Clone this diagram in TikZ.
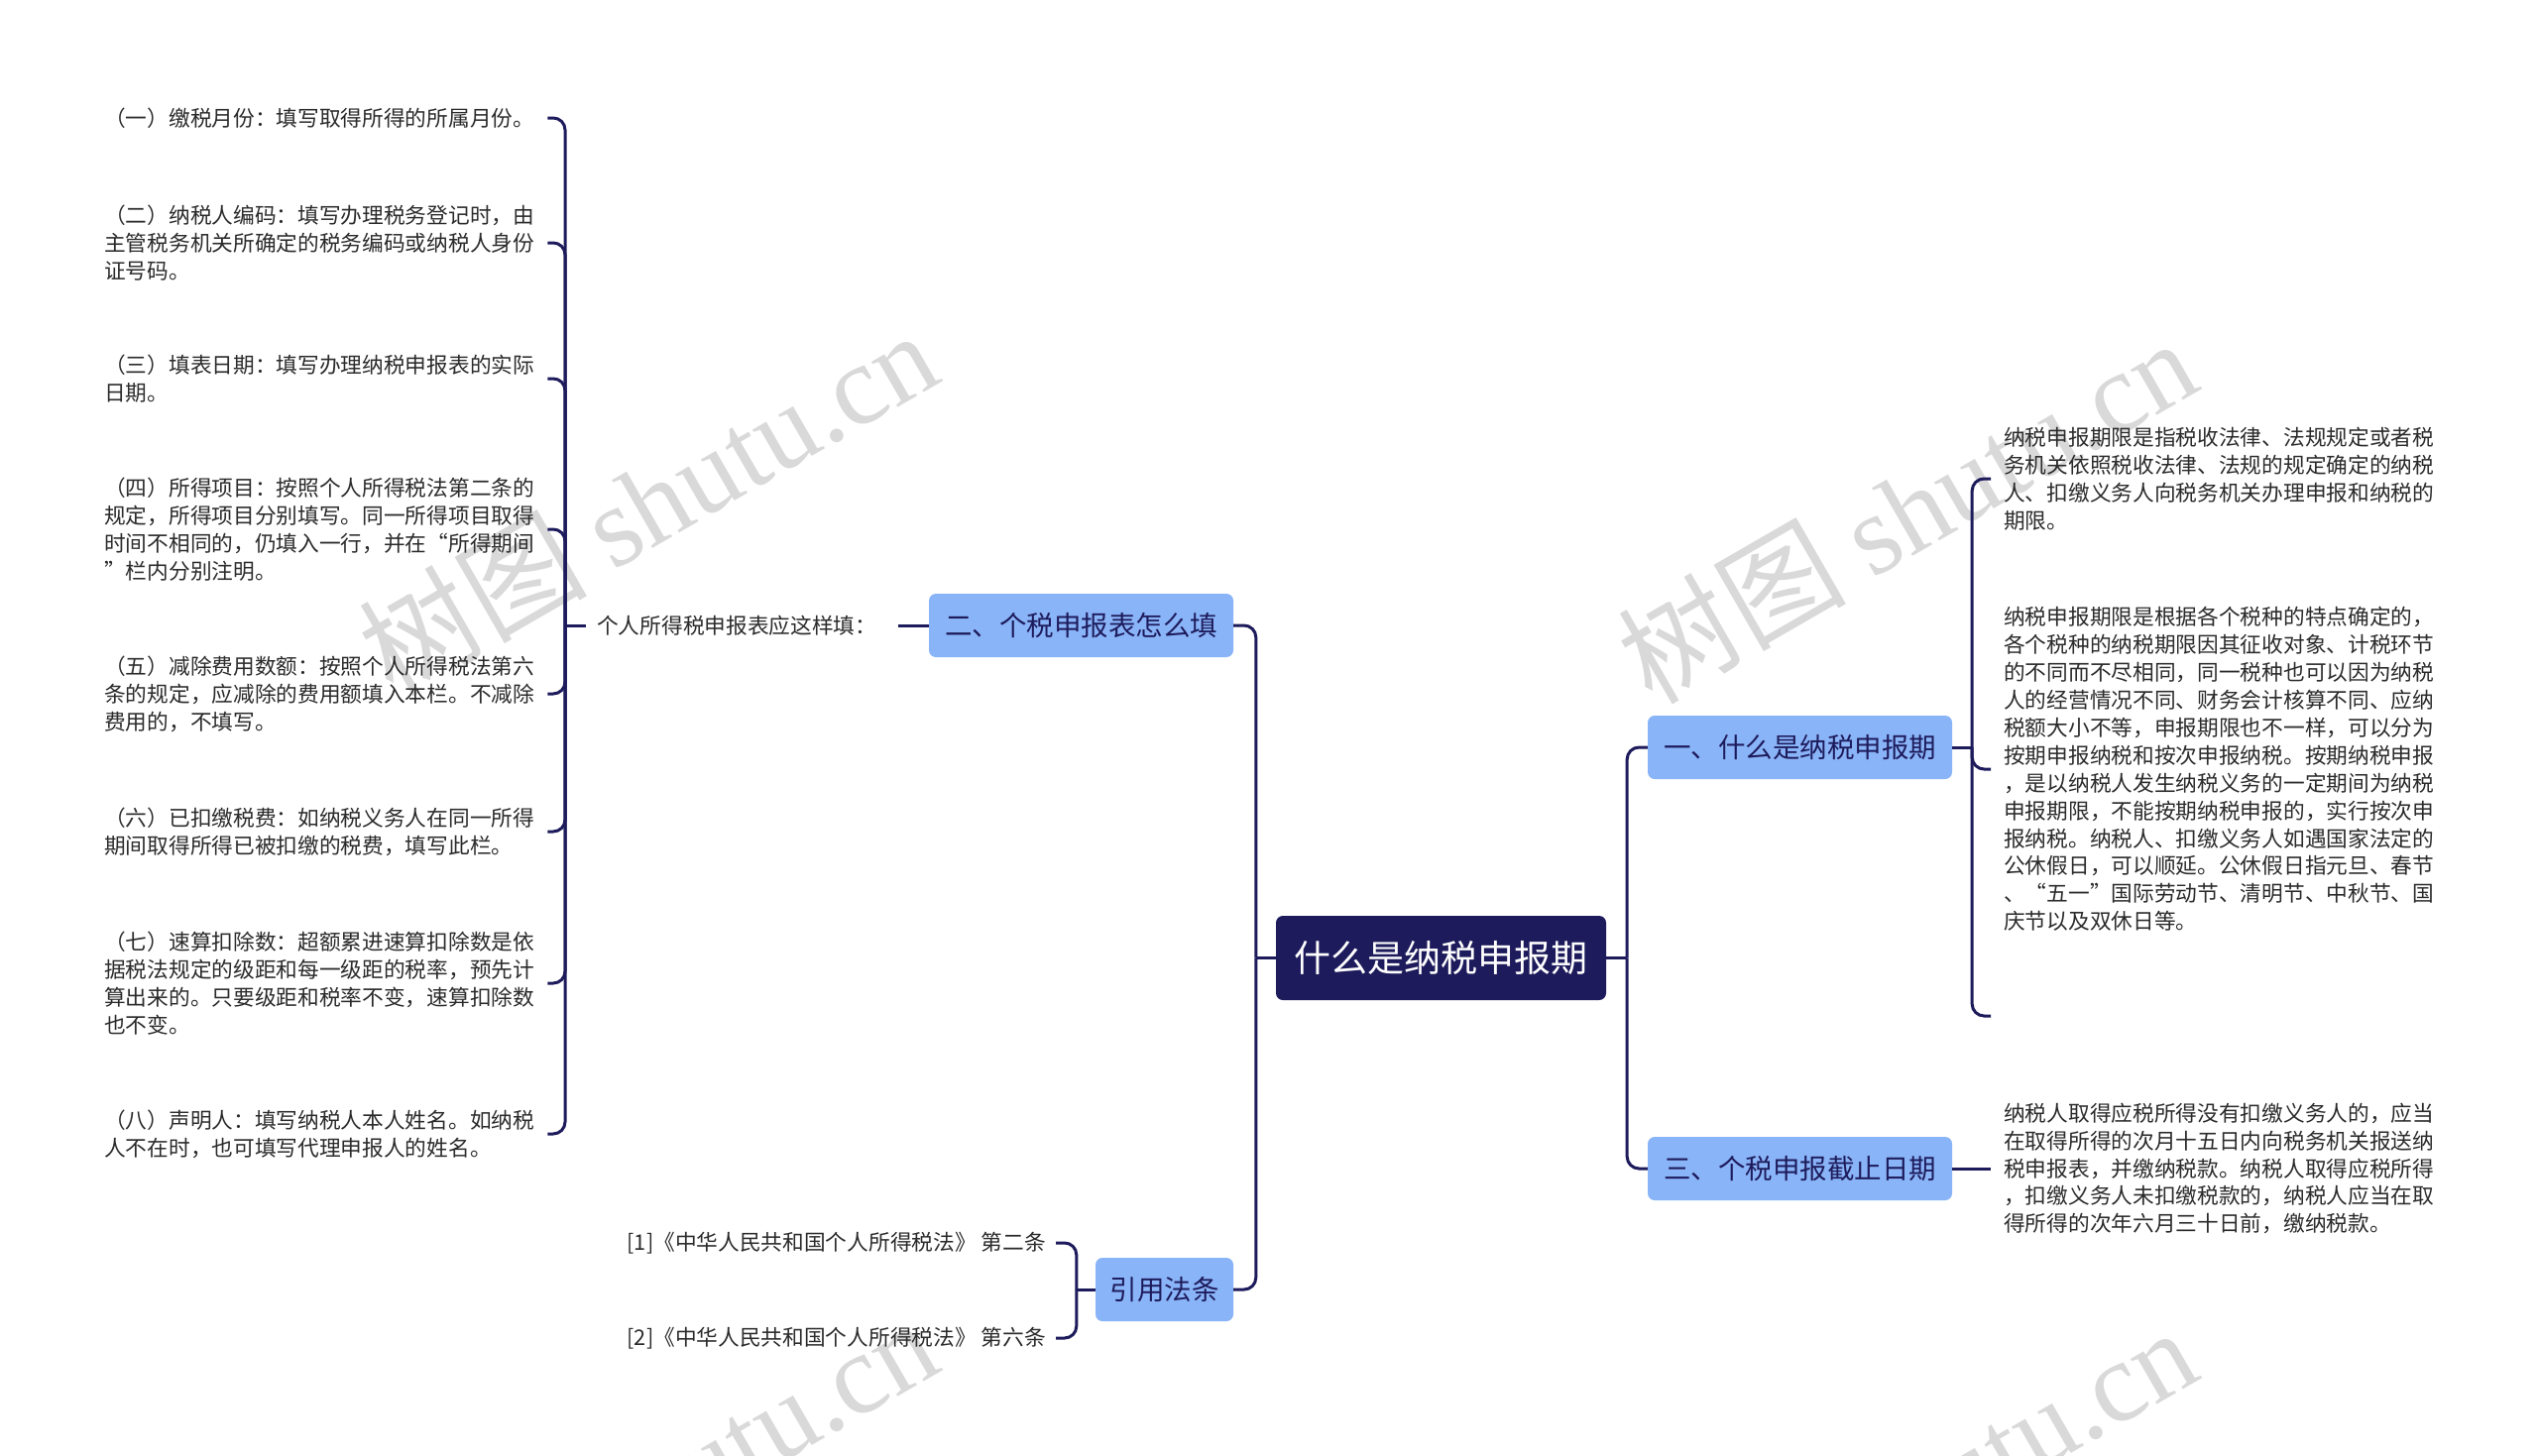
\documentclass[tikz,border=0pt]{standalone}
\usepackage{fontspec}
\setmainfont{Noto Sans CJK SC}
\newfontfamily\wmlat{Liberation Serif}
\usetikzlibrary{calc}
\definecolor{navy}{HTML}{1D1B5B}
\definecolor{bblue}{HTML}{8AB4F8}
\definecolor{wm}{HTML}{D9D9D9}
\definecolor{txt}{HTML}{2B2B2B}
\begin{document}
\begin{tikzpicture}[x=1pt,y=-1pt,
  conn/.style={draw=navy,line width=3pt,rounded corners=12pt},
  rootbox/.style={fill=navy,text=white,rounded corners=7pt,minimum width=333pt,minimum height=85pt,font=\fontsize{37}{44}\selectfont,inner sep=0pt},
  branch/.style={fill=bblue,text=navy,rounded corners=7pt,minimum height=64pt,inner sep=0pt,font=\fontsize{27.5}{33}\selectfont},
  leaf/.style={text=txt,font=\fontsize{21.7}{27.9}\selectfont,align=left,inner sep=0pt,text width=440pt},
  lab/.style={text=txt,font=\fontsize{21.7}{27.9}\selectfont,inner sep=0pt},
  wmark/.style={text=wm,rotate=30,font=\fontsize{115}{120}\selectfont,inner sep=0pt}]
\useasboundingbox[fill=white] (0,0) rectangle (2560,1468);

% watermarks
\node[wmark] (w1) at (653,506) {树图 {\wmlat shutu.cn}};
\node[wmark] (w2) at (1923,514) {树图 {\wmlat shutu.cn}};
\node[wmark] (w3) at (653,1504) {树图 {\wmlat shutu.cn}};
\node[wmark] (w4) at (1923,1512) {树图 {\wmlat shutu.cn}};

% main nodes
\node[rootbox] (root) at (1453.5,966.5) {什么是纳税申报期};
\node[branch,minimum width=307pt] (b2) at (1090.5,631) {二、个税申报表怎么填};
\node[branch,minimum width=139pt] (b4) at (1174.5,1301) {引用法条};
\node[branch,minimum width=307pt] (b1) at (1815.5,754) {一、什么是纳税申报期};
\node[branch,minimum width=307pt] (b3) at (1815.5,1179) {三、个税申报截止日期};

% left label
\node[lab,anchor=west,inner xsep=11pt] (l2) at (591,631) {个人所得税申报表应这样填：};

% left items
\node[leaf,anchor=west] (i1) at (105,119) {（一）缴税月份：填写取得所得的所属月份。};
\node[leaf,anchor=west] (i2) at (105,245) {（二）纳税人编码：填写办理税务登记时，由\\主管税务机关所确定的税务编码或纳税人身份\\证号码。};
\node[leaf,anchor=west] (i3) at (105,382) {（三）填表日期：填写办理纳税申报表的实际\\日期。};
\node[leaf,anchor=west] (i4) at (105,534) {（四）所得项目：按照个人所得税法第二条的\\规定，所得项目分别填写。同一所得项目取得\\时间不相同的，仍填入一行，并在“所得期间\\”栏内分别注明。};
\node[leaf,anchor=west] (i5) at (105,700) {（五）减除费用数额：按照个人所得税法第六\\条的规定，应减除的费用额填入本栏。不减除\\费用的，不填写。};
\node[leaf,anchor=west] (i6) at (105,839) {（六）已扣缴税费：如纳税义务人在同一所得\\期间取得所得已被扣缴的税费，填写此栏。};
\node[leaf,anchor=west] (i7) at (105,992) {（七）速算扣除数：超额累进速算扣除数是依\\据税法规定的级距和每一级距的税率，预先计\\算出来的。只要级距和税率不变，速算扣除数\\也不变。};
\node[leaf,anchor=west] (i8) at (105,1144) {（八）声明人：填写纳税人本人姓名。如纳税\\人不在时，也可填写代理申报人的姓名。};

% citations
\node[lab,anchor=east] (c1) at (1055,1254) {[1]《中华人民共和国个人所得税法》 第二条};
\node[lab,anchor=east] (c2) at (1055,1350) {[2]《中华人民共和国个人所得税法》 第六条};

% right texts
\node[leaf,anchor=west] (r1) at (2021,483) {纳税申报期限是指税收法律、法规规定或者税\\务机关依照税收法律、法规的规定确定的纳税\\人、扣缴义务人向税务机关办理申报和纳税的\\期限。};
\node[leaf,anchor=west] (r2) at (2021,776) {纳税申报期限是根据各个税种的特点确定的，\\各个税种的纳税期限因其征收对象、计税环节\\的不同而不尽相同，同一税种也可以因为纳税\\人的经营情况不同、财务会计核算不同、应纳\\税额大小不等，申报期限也不一样，可以分为\\按期申报纳税和按次申报纳税。按期纳税申报\\，是以纳税人发生纳税义务的一定期间为纳税\\申报期限，不能按期纳税申报的，实行按次申\\报纳税。纳税人、扣缴义务人如遇国家法定的\\公休假日，可以顺延。公休假日指元旦、春节\\、“五一”国际劳动节、清明节、中秋节、国\\庆节以及双休日等。};
\coordinate (r0) at (2008,1025);
\node[leaf,anchor=west] (r3) at (2021,1179) {纳税人取得应税所得没有扣缴义务人的，应当\\在取得所得的次月十五日内向税务机关报送纳\\税申报表，并缴纳税款。纳税人取得应税所得\\，扣缴义务人未扣缴税款的，纳税人应当在取\\得所得的次年六月三十日前，缴纳税款。};

% junctions
\coordinate (jl) at ($(root.west)+(-20,0)$);
\coordinate (jr) at ($(root.east)+(21,0)$);
\coordinate (jb2) at (570,631);
\coordinate (jb1) at ($(b1.east)+(20,0)$);
\coordinate (jb4) at ($(b4.west)+(-19,0)$);

% connectors root
\draw[conn] (root.west) -- (jl);
\draw[conn] (jl) |- (b2.east);
\draw[conn] (jl) |- (b4.east);
\draw[conn] (root.east) -- (jr);
\draw[conn] (jr) |- (b1.west);
\draw[conn] (jr) |- (b3.west);

% branch 2
\draw[conn,shorten <=10pt] (l2.east) -- (b2.west);
\draw[conn] (l2.west) -- (jb2);
\foreach \n in {i1,i2,i3,i4,i5,i6,i7,i8}{
  \draw[conn] (jb2) |- ($(\n.east)+(7,0)$);
}

% branch 4
\draw[conn] (b4.west) -- (jb4);
\draw[conn] (jb4) |- ($(c1.east)+(10,0)$);
\draw[conn] (jb4) |- ($(c2.east)+(10,0)$);

% branch 1
\draw[conn] (b1.east) -- (jb1);
\draw[conn] (jb1) |- ($(r1.west)+(-13,0)$);
\draw[conn] (jb1) |- ($(r2.west)+(-13,0)$);
\draw[conn] (jb1) |- (r0);

% branch 3
\draw[conn] (b3.east) -- ($(r3.west)+(-13,0)$);
\end{tikzpicture}
\end{document}
